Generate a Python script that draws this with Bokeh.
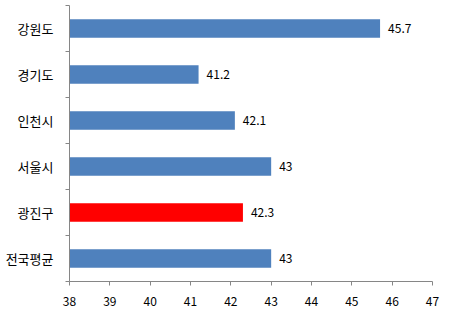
from bokeh.plotting import figure
from bokeh.models import ColumnDataSource, Range1d, FixedTicker
from bokeh.core.properties import value
from bokeh.embed import file_html
from bokeh.resources import INLINE

categories = ["강원도", "경기도", "인천시", "서울시", "광진구", "전국평균"]
values = [45.7, 41.2, 42.1, 43, 42.3, 43]
colors = ["#4F81BD", "#4F81BD", "#4F81BD", "#4F81BD", "#FF0000", "#4F81BD"]
x_ticks = [38, 39, 40, 41, 42, 43, 44, 45, 46, 47]

n = len(categories)
ypos = [n - 1 - i for i in range(n)]
labels = [str(v) for v in values]

src = ColumnDataSource(dict(y=ypos, v=values, c=colors, lab=labels, left=[38] * n))

p = figure(width=451, height=315, output_backend="svg", toolbar_location=None,
           x_range=Range1d(38, 47), y_range=Range1d(-0.5, n - 0.5),
           min_border_left=69, min_border_right=19, min_border_top=5, min_border_bottom=34)
p.outline_line_color = None
p.xgrid.visible = False
p.ygrid.visible = False

p.hbar(y="y", left="left", right="v", height=0.4, color="c", source=src, line_color=None)
p.text(x="v", y="y", text="lab", source=src, x_offset=8, text_baseline="middle",
       text_font=value("Noto Sans CJK KR"), text_font_size="12px", text_color="black")

axis_color = "#868686"
xa = p.xaxis[0]
xa.ticker = FixedTicker(ticks=x_ticks)
xa.axis_line_color = axis_color
xa.major_tick_line_color = axis_color
xa.major_tick_out = 4
xa.major_tick_in = 0
xa.minor_tick_line_color = None
xa.major_label_text_font = "Noto Sans CJK KR"
xa.major_label_text_font_size = "12px"
xa.major_label_text_color = "black"
xa.major_label_standoff = 11

ya = p.yaxis[0]
ya.ticker = FixedTicker(ticks=ypos, minor_ticks=[i - 0.5 for i in range(n + 1)])
ya.major_label_overrides = {y: c for y, c in zip(ypos, categories)}
ya.axis_line_color = axis_color
ya.major_tick_line_color = None
ya.major_tick_out = 0
ya.major_tick_in = 0
ya.minor_tick_line_color = axis_color
ya.minor_tick_out = 4
ya.minor_tick_in = 0
ya.major_label_text_font = "Noto Sans CJK KR"
ya.major_label_text_font_size = "13px"
ya.major_label_text_color = "black"
ya.major_label_standoff = 12

open("out.html", "w").write(file_html(p, INLINE))
